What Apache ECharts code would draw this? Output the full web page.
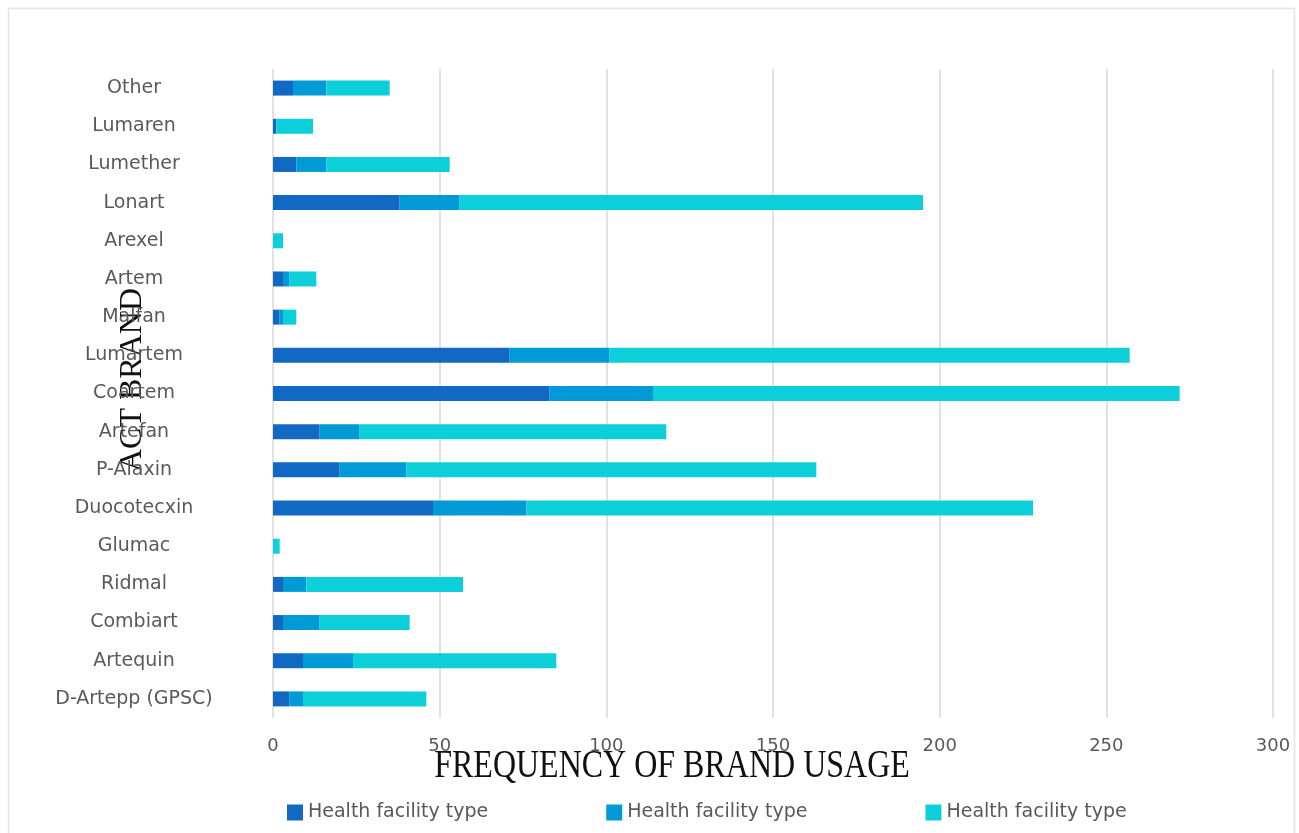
<!DOCTYPE html>
<html>
<head>
<meta charset="utf-8">
<script src="https://cdn.jsdelivr.net/npm/echarts@6/dist/echarts.min.js"></script>
<style>
html,body{margin:0;padding:0;background:#fff;}
#chart{width:1299px;height:833px;}
</style>
</head>
<body>
<div id="chart"></div>
<script>
const categories = ["Other","Lumaren","Lumether","Lonart","Arexel","Artem","Malfan","Lumartem","Coartem","Artefan","P-Alaxin","Duocotecxin","Glumac","Ridmal","Combiart","Artequin","D-Artepp (GPSC)"];
const seriesA = [6, 1, 7, 38, 0, 3, 2, 71, 83, 14, 20, 48, 0, 3, 3, 9, 5];
const seriesB = [10, 0, 9, 18, 0, 2, 1, 30, 31, 12, 20, 28, 0, 7, 11, 15, 4];
const seriesC = [19, 11, 37, 139, 3, 8, 4, 156, 158, 92, 123, 152, 2, 47, 27, 61, 37];
const legendLabels = ["Health facility type", "Health facility type", "Health facility type"];
const xTicks = [0, 50, 100, 150, 200, 250, 300];
const xTitle = "FREQUENCY OF BRAND USAGE";
const yTitle = "ACT BRAND";

const colors = ['#1269C4', '#009AD7', '#0DCFDA'];
const chart = echarts.init(document.getElementById('chart'), null, {renderer: 'canvas'});
const seriesData = [seriesA, seriesB, seriesC];
const ids = ['s0', 's1', 's2'];

const option = {
  animation: false,
  backgroundColor: '#ffffff',
  grid: {left: 273, right: 26, top: 69, bottom: 115, containLabel: false},
  xAxis: {
    type: 'value',
    min: xTicks[0],
    max: xTicks[xTicks.length - 1],
    interval: xTicks[1] - xTicks[0],
    axisLine: {show: false},
    axisTick: {show: false},
    splitLine: {show: true, lineStyle: {color: '#d9d9d9', width: 1.5}},
    axisLabel: {color: '#595959', fontFamily: 'DejaVu Sans', fontSize: 18, margin: 19}
  },
  yAxis: {
    type: 'category',
    inverse: true,
    data: categories,
    axisLine: {show: false},
    axisTick: {show: false},
    axisLabel: {color: '#595959', fontFamily: 'DejaVu Sans', fontSize: 19, align: 'center', margin: 139}
  },
  legend: {
    data: ids,
    left: 287,
    top: 803,
    padding: 0,
    itemWidth: 16,
    itemHeight: 16,
    itemGap: 118,
    icon: 'rect',
    formatter: function (name) { return legendLabels[ids.indexOf(name)]; },
    textStyle: {color: '#595959', fontFamily: 'DejaVu Sans', fontSize: 19}
  },
  series: seriesData.map(function (d, i) {
    return {
      name: ids[i],
      type: 'bar',
      stack: 'total',
      data: d,
      barWidth: 15,
      itemStyle: {color: colors[i]}
    };
  }),
  graphic: [
    {
      type: 'rect',
      silent: true,
      shape: {x: 8.5, y: 8.5, width: 1286, height: 840},
      style: {fill: 'none', stroke: '#e3e3e3', lineWidth: 1.5}
    },
    {
      type: 'text',
      silent: true,
      x: 672, y: 766,
      scaleY: 1.25,
      style: {text: xTitle, font: '32px "Liberation Serif"', fill: '#111111', align: 'center', verticalAlign: 'middle'}
    },
    {
      type: 'text',
      silent: true,
      x: 133, y: 380,
      rotation: Math.PI / 2,
      style: {text: yTitle, font: '32px "Liberation Serif"', fill: '#111111', align: 'center', verticalAlign: 'middle'}
    }
  ]
};
chart.setOption(option);
</script>
</body>
</html>
